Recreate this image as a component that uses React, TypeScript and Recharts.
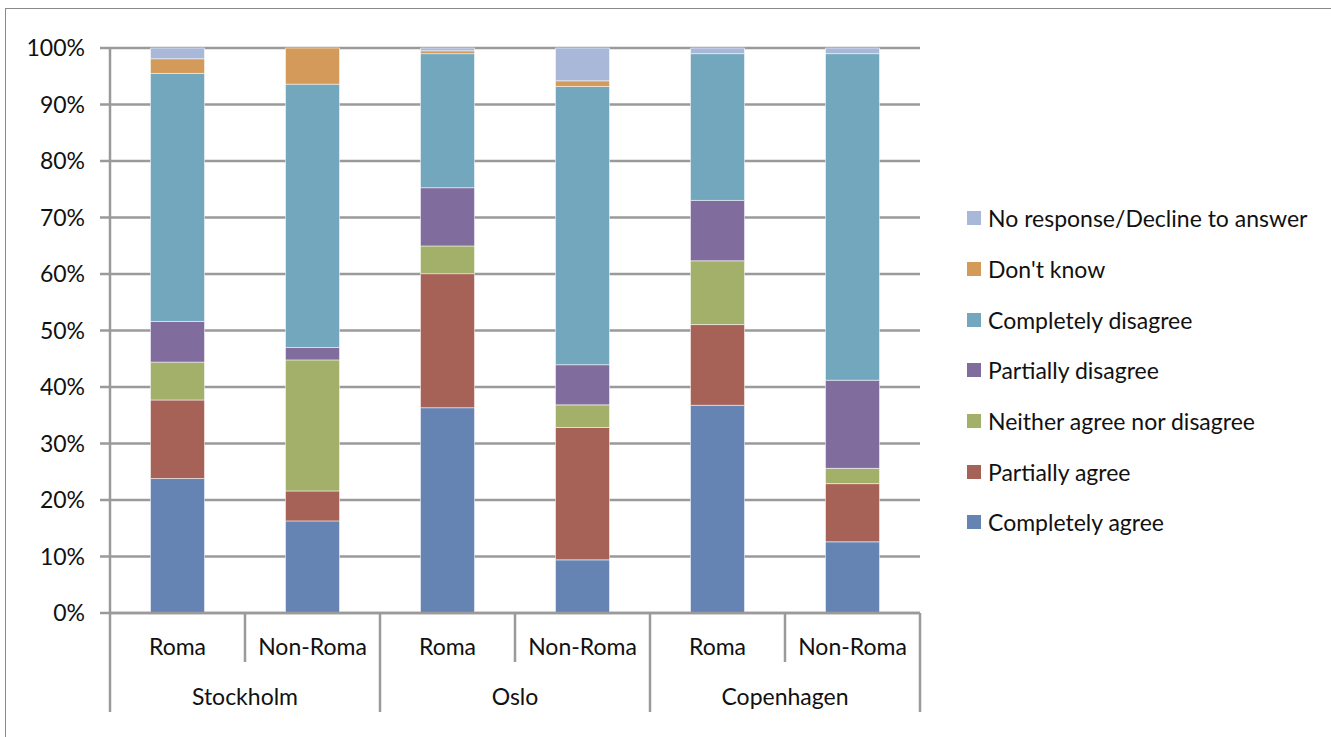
import React from 'react';
import { BarChart, Bar, XAxis, YAxis, CartesianGrid, Legend } from 'recharts';

const categories = ['Roma', 'Non-Roma', 'Roma', 'Non-Roma', 'Roma', 'Non-Roma'];
const cities = ['Stockholm', 'Stockholm', 'Oslo', 'Oslo', 'Copenhagen', 'Copenhagen'];

const completelyAgree = [23.8, 16.3, 36.3, 9.4, 36.8, 12.6];
const partiallyAgree = [13.9, 5.3, 23.7, 23.4, 14.3, 10.3];
const neither = [6.7, 23.2, 4.9, 4.0, 11.3, 2.7];
const partiallyDisagree = [7.2, 2.2, 10.3, 7.1, 10.7, 15.6];
const completelyDisagree = [43.9, 46.6, 23.7, 49.2, 26.0, 57.8];
const dontKnow = [2.6, 6.4, 0.5, 1.0, 0, 0];
const noResponse = [1.9, 0, 0.5, 5.8, 1.0, 1.0];

const yTicks = [0, 0.1, 0.2, 0.3, 0.4, 0.5, 0.6, 0.7, 0.8, 0.9, 1];

const series = [
  { key: 'ca', name: 'Completely agree', values: completelyAgree, color: '#6684B3' },
  { key: 'pa', name: 'Partially agree', values: partiallyAgree, color: '#A66257' },
  { key: 'ne', name: 'Neither agree nor disagree', values: neither, color: '#A2B06A' },
  { key: 'pd', name: 'Partially disagree', values: partiallyDisagree, color: '#806D9D' },
  { key: 'cd', name: 'Completely disagree', values: completelyDisagree, color: '#72A7BD' },
  { key: 'dk', name: "Don't know", values: dontKnow, color: '#D49A59' },
  { key: 'nr', name: 'No response/Decline to answer', values: noResponse, color: '#A9B7D8' },
];

const data = categories.map((c, i) => {
  const row: any = { cat: c, city: cities[i] };
  series.forEach((s) => {
    row[s.key] = s.values[i];
  });
  return row;
});

const FONT = 'Lato, "Open Sans", sans-serif';
const FS = 23;
const CHART_W = 1331;
const CHART_H = 737;
const MARGIN = { top: 48, right: 411, left: 0, bottom: 0 };
const Y_W = 110;
const X_H = 124;
const PLOT_W = CHART_W - MARGIN.left - MARGIN.right - Y_W;
const BAND = PLOT_W / categories.length;
const AXIS_COLOR = '#9a9a9a';

function CatTick(props: any) {
  const { x, y, payload, index } = props;
  const half = BAND / 2;
  const first = index % 2 === 0;
  return (
    <g>
      <text x={x} y={y + 42} textAnchor="middle" fontSize={FS} fill="#111" fontFamily={FONT}>
        {payload.value}
      </text>
      <line x1={x + half} x2={x + half} y1={y} y2={y + (first ? 49 : 99)} stroke={AXIS_COLOR} strokeWidth={2.5} />
      {index === 0 && (
        <line x1={x - half} x2={x - half} y1={y} y2={y + 99} stroke={AXIS_COLOR} strokeWidth={2.5} />
      )}
      {first && (
        <text x={x + half} y={y + 92} textAnchor="middle" fontSize={FS} fill="#111" fontFamily={FONT}>
          {cities[index]}
        </text>
      )}
    </g>
  );
}

function LegendContent() {
  const items = [...series].reverse();
  return (
    <div style={{ fontFamily: FONT }}>
      {items.map((s) => (
        <div key={s.key} style={{ display: 'flex', alignItems: 'center', height: 50.7 }}>
          <div style={{ width: 14, height: 14, background: s.color, marginRight: 7 }} />
          <span style={{ fontSize: FS, color: '#111', whiteSpace: 'nowrap' }}>{s.name}</span>
        </div>
      ))}
    </div>
  );
}

export default function App() {
  return (
    <div
      style={{
        position: 'fixed',
        left: 0,
        top: 0,
        width: CHART_W,
        height: CHART_H,
        overflow: 'hidden',
        background: '#fff',
      }}
    >
      <div
        style={{
          position: 'absolute',
          left: 5,
          top: 8,
          width: 1400,
          height: 800,
          borderLeft: '1px solid #8a8a8a',
          borderTop: '1px solid #8a8a8a',
        }}
      />
      <div style={{ position: 'absolute', left: 0, top: 0 }}>
        <BarChart width={CHART_W} height={CHART_H} data={data} margin={MARGIN} stackOffset="expand" barCategoryGap="30%">
          <CartesianGrid vertical={false} stroke={AXIS_COLOR} strokeWidth={2.5} strokeOpacity={1} />
          <XAxis
            dataKey="cat"
            height={X_H}
            tickLine={false}
            tickSize={0}
            tickMargin={0}
            axisLine={{ stroke: AXIS_COLOR, strokeWidth: 2.5 }}
            tick={<CatTick />}
            interval={0}
          />
          <YAxis
            width={Y_W}
            domain={[0, 1]}
            ticks={yTicks}
            tickFormatter={(v: number) => `${Math.round(v * 100)}%`}
            axisLine={{ stroke: AXIS_COLOR, strokeWidth: 2.5 }}
            tickLine={{ stroke: AXIS_COLOR, strokeWidth: 2.5 }}
            tickSize={10}
            tickMargin={15}
            tick={{ fontSize: FS, fill: '#111', fontFamily: FONT }}
          />
          <Legend
            layout="vertical"
            align="center"
            verticalAlign="middle"
            content={<LegendContent />}
            wrapperStyle={{ position: 'absolute', left: 967, top: 193, width: 362 }}
          />
          {series.map((s) => (
            <Bar
              key={s.key}
              dataKey={s.key}
              name={s.name}
              stackId="a"
              fill={s.color}
              stroke="#ffffff"
              strokeOpacity={0.5}
              strokeWidth={1}
              isAnimationActive={false}
            />
          ))}
        </BarChart>
      </div>
    </div>
  );
}
